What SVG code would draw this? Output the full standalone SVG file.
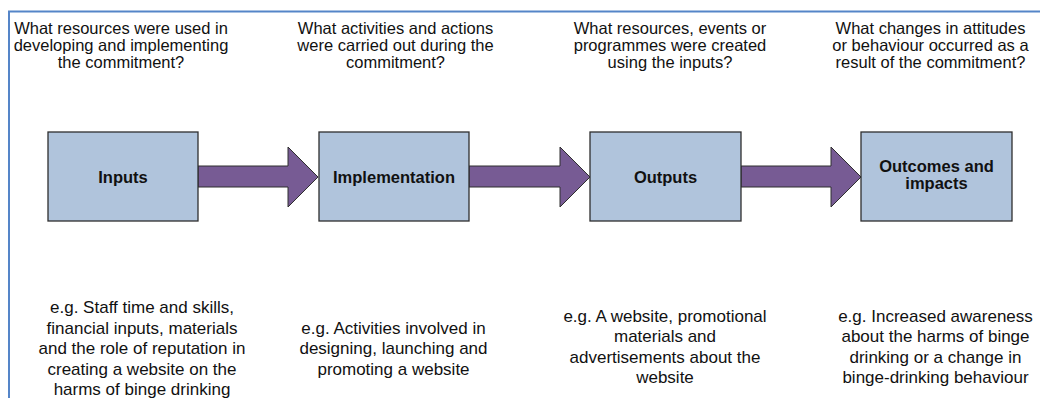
<svg xmlns="http://www.w3.org/2000/svg" width="1040" height="398" viewBox="0 0 1040 398">
<style>
.box{fill:#b0c4dc;stroke:#2e2e2e;stroke-width:1.3}
.arr{fill:#775b94;stroke:#2e2e2e;stroke-width:1}
.lbl{font-family:"Liberation Sans",Arial,sans-serif;font-size:16.5px;font-weight:bold;fill:#111;text-anchor:middle}
.q{font-family:"Liberation Sans",Arial,sans-serif;font-size:16.5px;fill:#111;text-anchor:middle}
.eg{font-family:"Liberation Sans",Arial,sans-serif;font-size:17px;fill:#111;text-anchor:middle}
</style>
<path d="M9 398 V11.5 H1040" fill="none" stroke="#5585c8" stroke-width="2"/>
<g id="connectors">
<polygon class="arr" points="198,166 288,166 288,147 318,177 288,207 288,187 198,187"/>
<polygon class="arr" points="469,166 560,166 560,147 590,177 560,207 560,187 469,187"/>
<polygon class="arr" points="741,166 831,166 831,147 861,177 831,207 831,187 741,187"/>
</g>
<g id="inputs">
<rect class="box" x="48" y="132" width="150" height="89"/>
<text class="lbl" x="123" y="182.5">Inputs</text>
</g>
<g id="implementation">
<rect class="box" x="319" y="132" width="150" height="89"/>
<text class="lbl" x="394" y="182.5">Implementation</text>
</g>
<g id="outputs">
<rect class="box" x="590" y="132" width="151" height="89"/>
<text class="lbl" x="665.5" y="182.5">Outputs</text>
</g>
<g id="outcomes">
<rect class="box" x="861" y="132" width="151" height="89"/>
<text class="lbl" x="936.5" y="172">Outcomes and</text>
<text class="lbl" x="936.5" y="189">impacts</text>
</g>
<g id="q1">
<text class="q" x="121" y="34">What resources were used in</text>
<text class="q" x="121" y="51">developing and implementing</text>
<text class="q" x="121" y="68">the commitment?</text>
</g>
<g id="q2">
<text class="q" x="395.5" y="34">What activities and actions</text>
<text class="q" x="395.5" y="51">were carried out during the</text>
<text class="q" x="395.5" y="68">commitment?</text>
</g>
<g id="q3">
<text class="q" x="670" y="34">What resources, events or</text>
<text class="q" x="670" y="51">programmes were created</text>
<text class="q" x="670" y="68">using the inputs?</text>
</g>
<g id="q4">
<text class="q" x="930.5" y="34">What changes in attitudes</text>
<text class="q" x="930.5" y="51">or behaviour occurred as a</text>
<text class="q" x="930.5" y="68">result of the commitment?</text>
</g>
<g id="e1">
<text class="eg" x="142" y="313">e.g. Staff time and skills,</text>
<text class="eg" x="142" y="333.5">financial inputs, materials</text>
<text class="eg" x="142" y="354">and the role of reputation in</text>
<text class="eg" x="142" y="374.5">creating a website on the</text>
<text class="eg" x="142" y="395">harms of binge drinking</text>
</g>
<g id="e2">
<text class="eg" x="393.5" y="333.5">e.g. Activities involved in</text>
<text class="eg" x="393.5" y="354">designing, launching and</text>
<text class="eg" x="393.5" y="374.5">promoting a website</text>
</g>
<g id="e3">
<text class="eg" x="665" y="321.5">e.g. A website, promotional</text>
<text class="eg" x="665" y="342">materials and</text>
<text class="eg" x="665" y="362.5">advertisements about the</text>
<text class="eg" x="665" y="383">website</text>
</g>
<g id="e4">
<text class="eg" x="935.5" y="321.5">e.g. Increased awareness</text>
<text class="eg" x="935.5" y="342">about the harms of binge</text>
<text class="eg" x="935.5" y="362.5">drinking or a change in</text>
<text class="eg" x="935.5" y="383">binge-drinking behaviour</text>
</g>
</svg>
